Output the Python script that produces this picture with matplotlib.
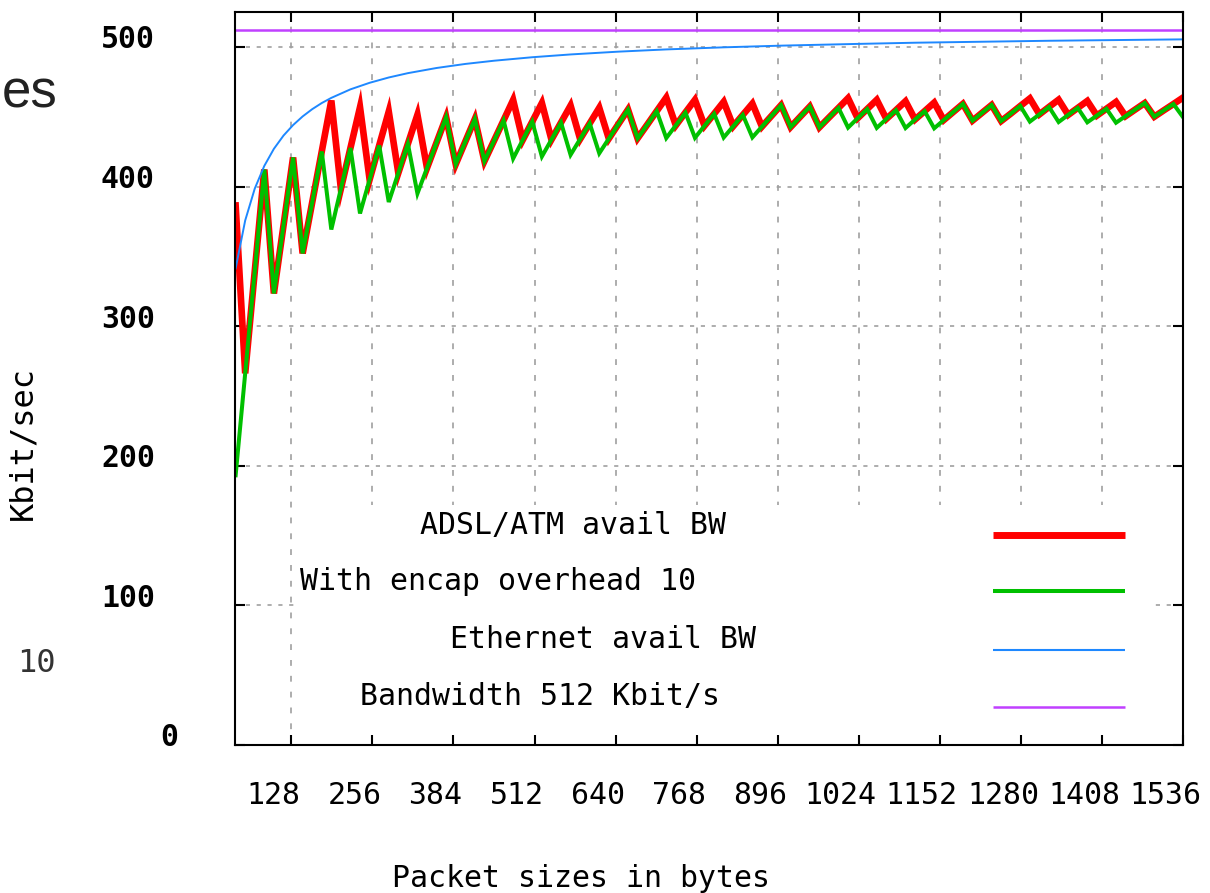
import matplotlib

matplotlib.use("Agg")
import matplotlib.pyplot as plt
import matplotlib.transforms as mtransforms
from matplotlib.patches import Rectangle

packet_sizes = [
    40.0, 55.1, 70.2, 85.3, 100.4, 115.6, 130.7, 145.8, 160.9, 176.0,
    191.1, 206.2, 221.3, 236.4, 251.6, 266.7, 281.8, 296.9, 312.0, 327.1,
    342.2, 357.3, 372.4, 387.6, 402.7, 417.8, 432.9, 448.0, 463.1, 478.2,
    493.3, 508.4, 523.6, 538.7, 553.8, 568.9, 584.0, 599.1, 614.2, 629.3,
    644.4, 659.6, 674.7, 689.8, 704.9, 720.0, 735.1, 750.2, 765.3, 780.4,
    795.6, 810.7, 825.8, 840.9, 856.0, 871.1, 886.2, 901.3, 916.4, 931.6,
    946.7, 961.8, 976.9, 992.0, 1007.1, 1022.2, 1037.3, 1052.4, 1067.6, 1082.7,
    1097.8, 1112.9, 1128.0, 1143.1, 1158.2, 1173.3, 1188.4, 1203.6, 1218.7, 1233.8,
    1248.9, 1264.0, 1279.1, 1294.2, 1309.3, 1324.4, 1339.6, 1354.7, 1369.8, 1384.9,
    1400.0, 1415.1, 1430.2, 1445.3, 1460.4, 1475.6, 1490.7, 1505.8, 1520.9, 1536.0,
]
adsl_atm_bw = [
    386.4, 266.2, 339.2, 412.2, 323.4, 372.1, 420.8, 352.1, 388.6, 425.1,
    461.6, 398.4, 427.6, 456.8, 405.0, 429.4, 453.7, 409.7, 430.6, 451.4,
    413.3, 431.5, 449.7, 416.0, 432.2, 448.4, 418.2, 432.8, 447.4, 462.0,
    433.3, 446.5, 459.8, 433.6, 445.8, 458.0, 434.0, 445.2, 456.4, 434.3,
    444.7, 455.1, 434.5, 444.2, 454.0, 463.7, 443.8, 453.0, 462.1, 443.5,
    452.1, 460.7, 443.2, 451.3, 459.4, 442.9, 450.6, 458.3, 442.6, 450.0,
    457.3, 442.4, 449.4, 456.3, 463.3, 448.9, 455.5, 462.1, 448.4, 454.7,
    461.1, 448.0, 454.0, 460.1, 447.6, 453.4, 459.2, 447.2, 452.8, 458.4,
    446.9, 452.2, 457.7, 463.1, 451.7, 457.0, 462.2, 451.3, 456.3, 461.3,
    450.8, 455.7, 460.6, 450.4, 455.1, 459.8, 450.0, 454.6, 459.1, 463.7,
]
encap10_bw = [
    193.2, 266.2, 339.2, 412.2, 323.4, 372.1, 420.8, 352.1, 388.6, 425.1,
    369.2, 398.4, 427.6, 380.7, 405.0, 429.4, 388.9, 409.7, 430.6, 395.0,
    413.3, 431.5, 449.7, 416.0, 432.2, 448.4, 418.2, 432.8, 447.4, 420.0,
    433.3, 446.5, 421.5, 433.6, 445.8, 422.7, 434.0, 445.2, 423.8, 434.3,
    444.7, 455.1, 434.5, 444.2, 454.0, 434.7, 443.8, 453.0, 434.9, 443.5,
    452.1, 435.1, 443.2, 451.3, 435.2, 442.9, 450.6, 458.3, 442.6, 450.0,
    457.3, 442.4, 449.4, 456.3, 442.2, 448.9, 455.5, 442.0, 448.4, 454.7,
    441.9, 448.0, 454.0, 441.7, 447.6, 453.4, 459.2, 447.2, 452.8, 458.4,
    446.9, 452.2, 457.7, 446.5, 451.7, 457.0, 446.2, 451.3, 456.3, 446.0,
    450.8, 455.7, 445.7, 450.4, 455.1, 459.8, 450.0, 454.6, 459.1, 449.7,
]
eth_sizes = [
    40.0, 55.1, 70.2, 85.3, 100.4, 115.6, 130.7, 145.8, 160.9, 176.0,
    191.1, 221.3, 251.6, 281.8, 312.0, 357.3, 402.7, 448.0, 508.4, 568.9,
    644.4, 720.0, 810.7, 901.3, 1007.1, 1112.9, 1218.7, 1324.4, 1430.2, 1536.0,
]
ethernet_bw = [
    341.3, 375.7, 398.5, 414.8, 427.0, 436.5, 444.0, 450.2, 455.4, 459.8,
    463.5, 469.6, 474.3, 478.1, 481.2, 484.9, 487.8, 490.1, 492.6, 494.6,
    496.6, 498.2, 499.7, 500.9, 502.0, 503.0, 503.7, 504.4, 504.9, 505.4,
]
link_sizes = [40, 1536]
link_bw = [512, 512]

series_labels = [
    "ADSL/ATM avail BW",
    "With encap overhead 10",
    "Ethernet avail BW",
    "Bandwidth 512 Kbit/s",
]
series_colors = ["#ff0000", "#00c000", "#1e88ff", "#c040ff"]
series_widths = [4.8, 2.9, 1.4, 1.8]

x_ticks = [128, 256, 384, 512, 640, 768, 896, 1024, 1152, 1280, 1408, 1536]
y_ticks = [0, 100, 200, 300, 400, 500]

MONO = "DejaVu Sans Mono"
FS = 21.5

fig = plt.figure(figsize=(12.1, 8.93), dpi=100)
ax = fig.add_axes([235 / 1210, 148 / 893, 948 / 1210, 733 / 893])
ax.set_xlim(39, 1536)
ax.set_ylim(0, 525)

# dotted gnuplot-style grid
for xt in x_ticks:
    ax.axvline(xt, color="#a0a0a0", lw=1.2, ls=(0, (3.5, 6.0)), zorder=0.5)
for yt in y_ticks:
    ax.axhline(yt, color="#a0a0a0", lw=1.2, ls=(0, (2.5, 4.0)), zorder=0.5)

# white key box that hides the grid
ax.add_patch(Rectangle((0.0633, 0.0), 0.9037, 0.327, transform=ax.transAxes,
                       facecolor="white", edgecolor="none", zorder=1))

xs = [packet_sizes, packet_sizes, eth_sizes, link_sizes]
ys = [adsl_atm_bw, encap10_bw, ethernet_bw, link_bw]
for x, y, c, w in zip(xs, ys, series_colors, series_widths):
    ax.plot(x, y, color=c, lw=w, solid_joinstyle="miter", zorder=2)

# key: text left, sample line right
key_text = [(0.1951, 0.3001), (0.0686, 0.2224), (0.2268, 0.1446), (0.1319, 0.0668)]
key_line_y = [0.2865, 0.2101, 0.130, 0.0522]
key_line_w = [5.0, 2.9, 1.5, 1.8]
for lab, (tx, ty), ly, c, w in zip(series_labels, key_text, key_line_y, series_colors, key_line_w):
    ax.text(tx, ty, lab, transform=ax.transAxes, ha="left", va="center",
            family=MONO, fontsize=FS, zorder=3)
    ax.plot([0.7996, 0.9388], [ly, ly], transform=ax.transAxes, color=c,
            lw=w, solid_capstyle="butt", clip_on=False, zorder=3)

for s in ax.spines.values():
    s.set_linewidth(1.5)

ax.set_xticks(x_ticks)
ax.set_xticklabels([str(t) for t in x_ticks], family=MONO, fontsize=FS)
ax.set_yticks(y_ticks)
ax.set_yticklabels([str(t) for t in y_ticks], family=MONO, fontsize=FS,
                   fontweight="bold")
ax.tick_params(axis="both", direction="in", top=True, right=True,
               length=7, width=1.5)
ax.tick_params(axis="x", pad=26)
ax.tick_params(axis="y", pad=57.6)

# labels sit a little off their ticks, as in the source image
for lab in ax.get_xticklabels():
    lab.set_transform(lab.get_transform()
                      + mtransforms.ScaledTranslation(-0.18, 0, fig.dpi_scale_trans))
for i, lab in enumerate(ax.get_yticklabels()):
    dx = 0.23 if i == 0 else 0.0
    lab.set_transform(lab.get_transform()
                      + mtransforms.ScaledTranslation(dx, 0.10, fig.dpi_scale_trans))

ax.set_xlabel("Packet sizes in bytes", family=MONO, fontsize=FS)
ax.xaxis.set_label_coords(0.365, -0.1815)
ax.xaxis.label.set_va("center")
ax.set_ylabel("Kbit/sec", family=MONO, fontsize=23)
ax.yaxis.set_label_coords(-0.2236, 0.412)
ax.yaxis.label.set_va("center")

# stray text from the surrounding page
fig.text(2 / 1210, (893 - 107) / 893, "es", ha="left", va="baseline",
         fontsize=38, family="Liberation Sans", color="#222222")
fig.text(17 / 1210, (893 - 672) / 893, "10", ha="left", va="baseline",
         fontsize=23, family=MONO, color="#333333")

fig.savefig("out.png", dpi=100)
